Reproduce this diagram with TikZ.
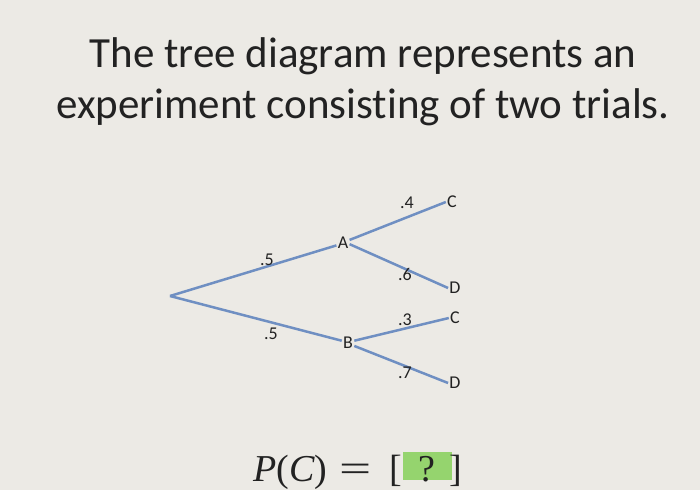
\documentclass[tikz,border=0pt]{standalone}
\usepackage{fontspec}
\setmainfont{Carlito}[Ligatures=NoCommon]
\newfontfamily\formulafont{Liberation Serif}
\usepackage{graphicx}
\usepackage{tikz}
\usetikzlibrary{positioning}
\definecolor{paper}{HTML}{ECEAE5}
\definecolor{branch}{HTML}{6F8FC2}
\definecolor{ink}{HTML}{222222}
\definecolor{answer}{HTML}{95D46E}

\begin{document}
\begin{tikzpicture}[x=1pt, y=-1pt, thick,
  branch line/.style={draw=branch, line width=2.5pt},
  event node/.style={inner sep=1pt, text=ink, font=\fontsize{18}{18}\selectfont},
  prob node/.style={inner sep=0pt, text=ink, font=\fontsize{18}{18}\selectfont},
  formula node/.style={inner sep=0pt, anchor=base, text=ink, font=\formulafont\fontsize{38}{38}\selectfont}]

\fill[paper] (0,0) rectangle (700,490);
\useasboundingbox (0,0) rectangle (700,490);

% title
\node[text=ink, align=center, font=\fontsize{43}{51}\selectfont] (title) at (363,82)
  {The tree diagram represents an\\experiment consisting of two trials.};

% tree
\coordinate (root) at (170,296);
\node[event node] (A) at (343,243) {A};
\node[event node] (B) at (348,343) {B};
\node[event node] (AC) at (452,202) {C};
\node[event node] (AD) at (455,288) {D};
\node[event node] (BC) at (455,318) {C};
\node[event node] (BD) at (455,383) {D};

\draw[branch line] (root) -- (A.200);
\draw[branch line] (root) -- (B.160);
\draw[branch line] (A.25) -- (AC.west);
\draw[branch line] (A.-10) -- (AD.west);
\draw[branch line] (B.20) -- (BC.west);
\draw[branch line] (B.-25) -- (BD.west);

\node[prob node] (pA) at (267,260) {.5};
\node[prob node] (pB) at (271,334) {.5};
\node[prob node] (pAC) at (407,203) {.4};
\node[prob node] (pAD) at (405,274) {.6};
\node[prob node] (pBC) at (405,320) {.3};
\node[prob node] (pBD) at (405,373) {.7};

% question
\fill[answer] (403,452) rectangle (452,480);
\node[formula node, anchor=base west] (lhs) at (253,481) {\textit{P}(\textit{C})};
\node[formula node] (equals) at (356,481) {\scalebox{1.5}[1]{=}};
\node[formula node] (open) at (396,481) {[};
\node[formula node] (mark) at (427,481) {?};
\node[formula node] (close) at (456,481) {]};
\end{tikzpicture}
\end{document}
